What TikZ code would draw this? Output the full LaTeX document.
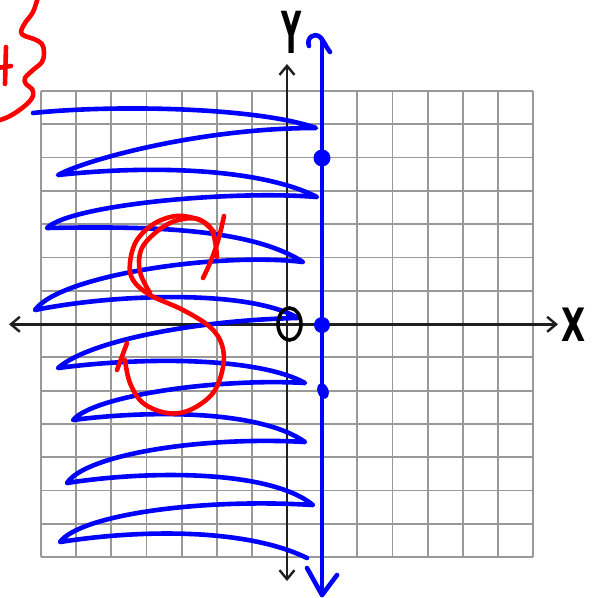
\documentclass[tikz,border=0pt]{standalone}
\usepackage{fontspec}
\newfontfamily\handfont{DejaVu Sans}
\usetikzlibrary{arrows.meta}
\tikzset{
  gridline/.style={draw=black!40, line width=1.8pt},
  axisline/.style={draw=black!88, line width=2.4pt, arrows={Straight Barb[length=9pt,width=15pt]-Straight Barb[length=9pt,width=15pt]}},
  bluepen/.style={draw=blue, line width=4.6pt, line cap=round, line join=round},
  redpen/.style={draw=red, line width=4.6pt, line cap=round, line join=round},
  blackpen/.style={draw=black, line width=3.6pt},
  axislabel/.style={font=\handfont\bfseries, text=black, inner sep=0pt}
}
\begin{document}
\begin{tikzpicture}[x=1pt,y=-1pt]
\useasboundingbox (0,0) rectangle (592,598);
\fill[white] (0,0) rectangle (592,598);
% grid 14 x 14
\foreach \i in {0,...,14} {
  \draw[gridline] ({41+35.15*\i},91) -- ({41+35.15*\i},557);
  \draw[gridline] (41,{91+33.29*\i}) -- (533,{91+33.29*\i});
}
% axes
\coordinate (xl) at (9,324.3);
\coordinate (xr) at (558,324.3);
\coordinate (yt) at (287,64);
\coordinate (yb) at (287,581);
\draw[axisline] (xl) -- (xr);
\draw[axisline] (yb) -- (yt);
\node[axislabel, xscale=0.68] (xlab) at (574,325) {\fontsize{46}{46}\selectfont X};
\node[axislabel, xscale=0.48] (ylab) at (292,32) {\fontsize{58}{58}\selectfont Y};
% blue scribble (shading x < 1)
\draw[bluepen] (33,113)
  .. controls (120,104) and (260,108) .. (316,128)
  .. controls (200,128) and (85,160) .. (58,175)
  .. controls (150,165) and (260,168) .. (317,197)
  .. controls (230,190) and (70,205) .. (47,228)
  .. controls (150,226) and (250,228) .. (303,262)
  .. controls (220,252) and (60,275) .. (35,310)
  .. controls (120,293) and (250,290) .. (298,318)
  .. controls (200,320) and (90,340) .. (58,368)
  .. controls (150,356) and (260,358) .. (305,383)
  .. controls (220,378) and (95,395) .. (73,420)
  .. controls (150,410) and (260,410) .. (305,442)
  .. controls (200,436) and (85,455) .. (67,483)
  .. controls (150,470) and (270,470) .. (313,505)
  .. controls (200,498) and (80,515) .. (60,542)
  .. controls (150,528) and (250,530) .. (307,558);
% blue vertical line x = 1
\coordinate (btop) at (322,39);
\coordinate (bbot) at (322,595);
\draw[bluepen] (btop) -- (bbot);
\draw[bluepen] (309,46) .. controls (306,38) and (314,32) .. (320,37) .. controls (324,41) and (326,47) .. (330,52);
\draw[bluepen] (307,568) -- (bbot) -- (337,575);
\fill[blue] (322,158) circle (8.5pt);
\fill[blue] (322,325) circle (8pt);
\fill[blue, rotate around={20:(323,391)}] (323,391) ellipse (5.5pt and 8pt);
% red S with arrow ticks
\draw[redpen] plot[smooth, tension=0.6] coordinates {
  (217,257) (210,227) (183,216) (157,222) (137,240) (130,263) (133,280) (150,295)
  (183,310) (210,327) (222,345) (223,367) (213,393) (190,410) (167,413) (143,403)
  (130,383) (125,360)};
\draw[redpen] plot[smooth, tension=0.6] coordinates {
  (150,293) (140,272) (141,250) (155,233) (175,221) (198,219) (214,232)};
\draw[redpen] (224,216) .. controls (218,245) and (212,260) .. (203,278);
\draw[redpen] (127,343) -- (117,370);
% red brace and fragment of a "4" at top left
\draw[redpen] plot[smooth, tension=0.6] coordinates {
  (38,-3) (33,12) (25,23) (21,32) (25,36) (34,39) (42,44) (44,53) (42,62) (33,70)
  (25,78) (26,84) (32,89) (33,96) (28,103) (18,111) (8,117) (-3,121)};
\draw[redpen] (6,47) -- (5,84);
\draw[redpen] (-3,68) -- (11,66);
% black circle at origin
\draw[blackpen] (289.5,324) ellipse (11.5pt and 16pt);
\end{tikzpicture}
\end{document}
